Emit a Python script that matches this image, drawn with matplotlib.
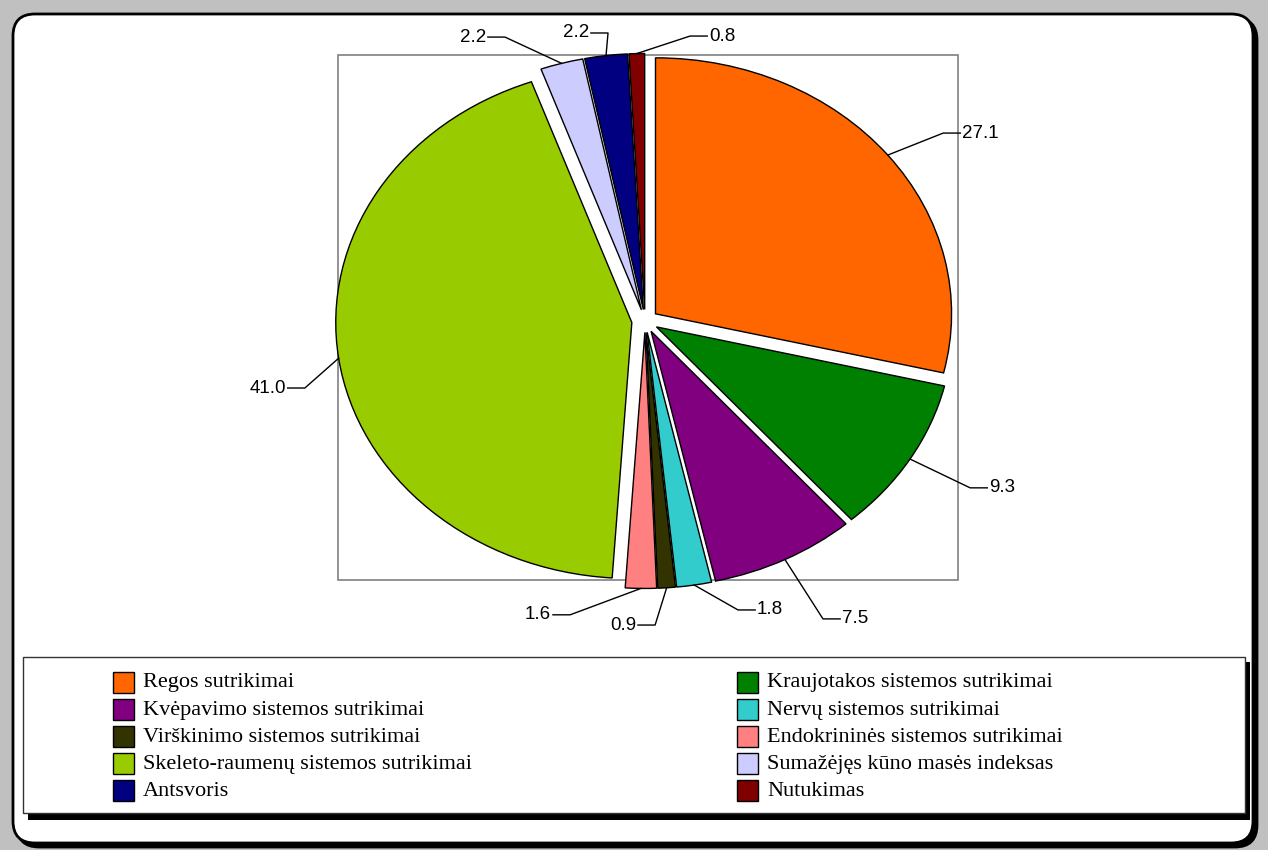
import numpy as np
import matplotlib.pyplot as plt
from matplotlib.patches import FancyBboxPatch, Rectangle

# health disorder shares (percent)
categories = ['Regos sutrikimai', 'Kraujotakos sistemos sutrikimai',
              'Kvėpavimo sistemos sutrikimai', 'Nervų sistemos sutrikimai',
              'Virškinimo sistemos sutrikimai', 'Endokrininės sistemos sutrikimai',
              'Skeleto-raumenų sistemos sutrikimai', 'Sumažėjęs kūno masės indeksas',
              'Antsvoris', 'Nutukimas']
values = [27.1, 9.3, 7.5, 1.8, 0.9, 1.6, 41.0, 2.2, 2.2, 0.8]
colors = ['#FF6600', '#008000', '#800080', '#33CCCC', '#333300',
          '#FF8080', '#99CC00', '#CCCCFF', '#000080', '#800000']

# where each value label sits (elbow of the leader line) and which way it points
label_elbows = [(1.007, 0.734), (1.098, -0.652), (0.601, -1.164), (0.314, -1.129),
                (0.034, -1.188), (-0.253, -1.148), (-1.149, -0.262),
                (-0.473, 1.109), (-0.125, 1.125), (0.152, 1.113)]
label_sides = [1, 1, 1, 1, -1, -1, -1, -1, -1, 1]

W, H = 1268, 850
fig = plt.figure(figsize=(W / 100, H / 100), dpi=100)
fig.patch.set_facecolor('#c0c0c0')

# background layer in pixel units: rounded frame + legend box
bg = fig.add_axes([0, 0, 1, 1])
bg.set_xlim(0, W)
bg.set_ylim(H, 0)
bg.axis('off')

bg.add_patch(FancyBboxPatch((17, 18), 1240, 829, boxstyle='round,pad=0,rounding_size=22',
                            fc='black', ec='black', lw=2))
bg.add_patch(FancyBboxPatch((13, 14), 1240, 829, boxstyle='round,pad=0,rounding_size=22',
                            fc='white', ec='black', lw=2))

# plot area border
bg.add_patch(Rectangle((338, 55), 620, 525, fc='none', ec='#808080', lw=1.2))

# legend box with shadow
bg.add_patch(Rectangle((28, 662), 1222, 158, fc='black', ec='none'))
bg.add_patch(Rectangle((23, 657), 1222, 156, fc='white', ec='#333333', lw=1))

for i, (name, col) in enumerate(zip(categories, colors)):
    cx = [113, 737][i % 2]
    cy = 672 + (i // 2) * 27
    bg.add_patch(Rectangle((cx, cy), 21, 21, fc=col, ec='black', lw=1))
    bg.text(cx + 30, cy + 11, name, ha='left', va='center',
            family='Liberation Serif', fontsize=16)

# pie, stretched horizontally to an ellipse
ax = fig.add_axes([338 / W, (H - 580) / H, 620 / W, 525 / H])
wedges, _ = ax.pie(values, colors=colors, startangle=90, counterclock=False,
                   explode=[0.045] * len(values), radius=1,
                   wedgeprops=dict(edgecolor='black', linewidth=1))
ax.set_aspect('auto')
ax.set_xlim(-1.037, 1.057)
ax.set_ylim(-1.012, 1.039)
ax.axis('off')
for w in wedges:
    w.set_clip_on(False)

seg = 0.058
for w, v, (ex, ey), side in zip(wedges, values, label_elbows, label_sides):
    th = np.deg2rad((w.theta1 + w.theta2) / 2)
    ax0 = w.center[0] + w.r * np.cos(th)
    ay0 = w.center[1] + w.r * np.sin(th)
    xs = [ax0, ex, ex + side * seg]
    ys = [ay0, ey, ey]
    ax.plot(xs, ys, color='black', lw=1, clip_on=False)
    ax.text(ex + side * (seg + 0.006), ey, f'{v:.1f}', ha='left' if side > 0 else 'right',
            va='center', family='Liberation Sans', fontsize=13.5, clip_on=False)

fig.savefig('out.png', dpi=100, facecolor=fig.get_facecolor())
